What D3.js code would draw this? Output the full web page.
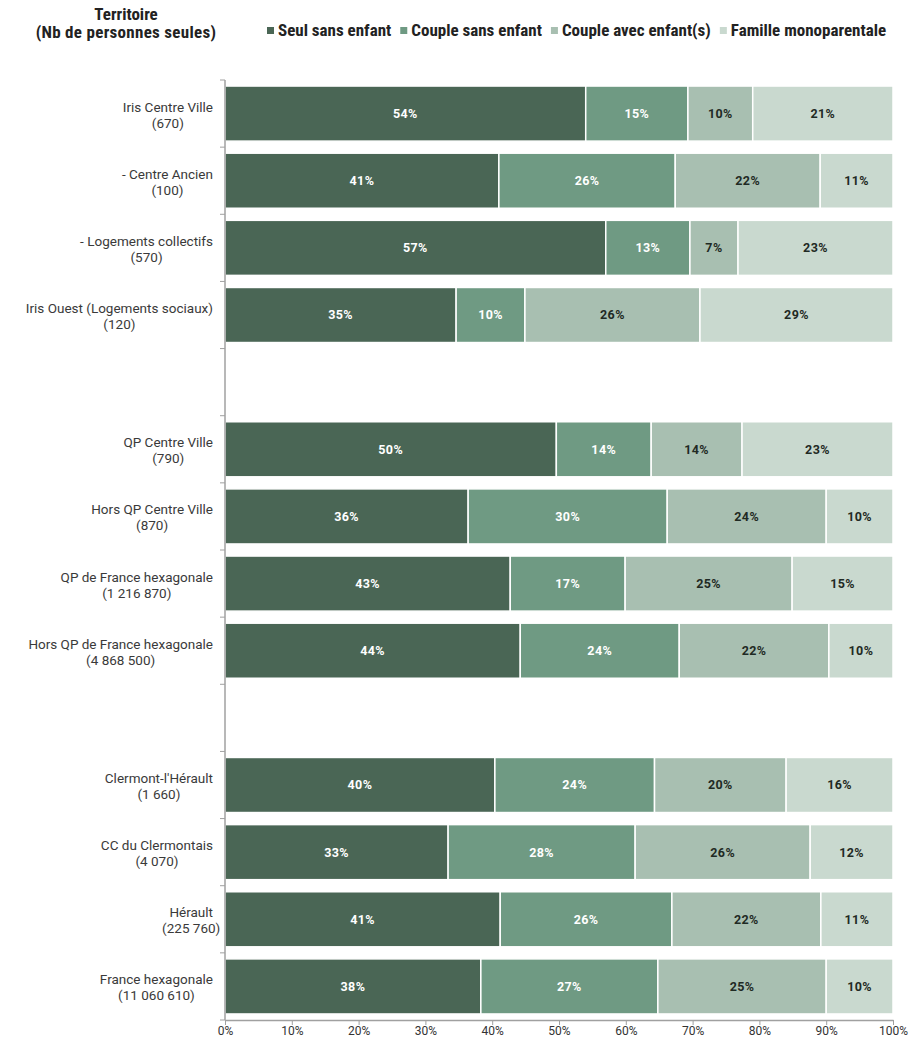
<!DOCTYPE html>
<html>
<head>
<meta charset="utf-8">
<script src="https://cdn.jsdelivr.net/npm/d3@7"></script>
<style>
  body { margin: 0; background: #fff; }
  text { font-family: Roboto, sans-serif; }
  .cond { font-family: "Roboto Condensed", "Liberation Sans Narrow", Roboto, sans-serif; }
</style>
</head>
<body>
<div id="chart"></div>
<script>
// Categories (blank strings = gaps between groups)
const territories = [
    "Iris Centre Ville|(670)",
    "- Centre Ancien|(100)",
    "- Logements collectifs|(570)",
    "Iris Ouest (Logements sociaux)|(120)",
    "",
    "QP Centre Ville|(790)",
    "Hors QP Centre Ville|(870)",
    "QP de France hexagonale|(1 216 870)",
    "Hors QP de France hexagonale|(4 868 500)",
    " ",
    "Clermont-l'Hérault|(1 660)",
    "CC du Clermontais|(4 070)",
    "Hérault|(225 760)",
    "France hexagonale|(11 060 610)"
];

const seriesNames = ["Seul sans enfant", "Couple sans enfant", "Couple avec enfant(s)", "Famille monoparentale"];

// Series values (% of single persons), null for gaps
const seulSansEnfant     = [54.0, 41.0, 57.0, 34.6, null, 49.6, 36.4, 42.7, 44.2, null, 40.4, 33.4, 41.2, 38.3];
const coupleSansEnfant   = [15.3, 26.4, 12.6, 10.3, null, 14.2, 29.8, 17.2, 23.8, null, 23.9, 28.0, 25.7, 26.5];
const coupleAvecEnfant   = [ 9.7, 21.7,  7.2, 26.2, null, 13.6, 23.8, 25.0, 22.4, null, 19.7, 26.2, 22.3, 25.2];
const familleMono        = [21.0, 10.9, 23.2, 28.9, null, 22.6, 10.0, 15.1,  9.6, null, 16.0, 12.4, 10.8, 10.0];

const xTicks = [0, 10, 20, 30, 40, 50, 60, 70, 80, 90, 100];

const colors = ["#4a6655", "#6f9a83", "#a8bfb1", "#c9d9cf"];
const labelColors = ["#ffffff", "#ffffff", "#1f2a24", "#1f2a24"];

const width = 909;
const height = 1037;
const margin = { top: 80, right: 16, bottom: 17, left: 225 };

const svg = d3.select("#chart").append("svg")
    .attr("width", width)
    .attr("height", height);

// Build table for the stack
const table = territories.map((t, i) => ({
    key: t,
    "Seul sans enfant": seulSansEnfant[i],
    "Couple sans enfant": coupleSansEnfant[i],
    "Couple avec enfant(s)": coupleAvecEnfant[i],
    "Famille monoparentale": familleMono[i]
}));

const stack = d3.stack().keys(seriesNames)
    .value((d, k) => d[k] == null ? 0 : d[k]);
const stacked = stack(table);

const x = d3.scaleLinear()
    .domain([0, 100])
    .range([margin.left, width - margin.right]);

const y = d3.scaleBand()
    .domain(territories)
    .range([margin.top, height - margin.bottom])
    .paddingInner(0.18)
    .paddingOuter(0.09);

// Bars
const layers = svg.append("g").selectAll("g")
    .data(stacked)
    .enter().append("g")
    .attr("fill", (d, i) => colors[i]);

layers.selectAll("rect")
    .data(d => d.filter(s => s.data[d.key] != null))
    .enter().append("rect")
    .attr("x", d => x(d[0]))
    .attr("y", d => y(d.data.key))
    .attr("width", d => x(d[1]) - x(d[0]))
    .attr("height", y.bandwidth())
    .attr("stroke", "#fff")
    .attr("stroke-width", 1.5);

// Value labels
stacked.forEach((layer, li) => {
    svg.append("g").selectAll("text")
        .data(layer.filter(s => s.data[layer.key] != null))
        .enter().append("text")
        .attr("x", d => (x(d[0]) + x(d[1])) / 2)
        .attr("y", d => y(d.data.key) + y.bandwidth() / 2)
        .attr("dy", "0.35em")
        .attr("text-anchor", "middle")
        .attr("font-size", 12.5)
        .attr("font-weight", "bold")
        .attr("letter-spacing", 0.4)
        .attr("fill", labelColors[li])
        .text(d => Math.round(d.data[layer.key]) + "%");
});

// Y axis line + ticks at band boundaries
const yAxis = svg.append("g");
yAxis.append("line")
    .attr("x1", margin.left).attr("x2", margin.left)
    .attr("y1", margin.top).attr("y2", height - margin.bottom)
    .attr("stroke", "#a0a0a0").attr("stroke-width", 1.5);

const step = y.step();
const boundaries = d3.range(territories.length + 1).map(i => margin.top + i * step);
yAxis.selectAll(".tick")
    .data(boundaries)
    .enter().append("line")
    .attr("x1", margin.left - 5).attr("x2", margin.left)
    .attr("y1", d => d).attr("y2", d => d)
    .attr("stroke", "#a0a0a0").attr("stroke-width", 1);

// Y labels (two lines)
const yLabels = svg.append("g").selectAll("text")
    .data(territories.filter(t => t.trim() !== ""))
    .enter().append("text")
    .attr("font-size", 13.5)
    .attr("fill", "#3a3a3a");

yLabels.each(function(t) {
    const parts = t.split("|");
    const cy = y(t) + y.bandwidth() / 2;
    const el = d3.select(this);
    el.append("tspan")
        .attr("x", 213).attr("y", cy - 2)
        .attr("text-anchor", "end")
        .text(parts[0]);
    el.append("tspan")
        .attr("y", cy + 14)
        .text(parts[1]);
});
// center second line under the first
yLabels.each(function() {
    const spans = d3.select(this).selectAll("tspan").nodes();
    const w = spans[0].getComputedTextLength();
    d3.select(spans[1]).attr("x", 213 - w / 2).attr("text-anchor", "middle");
});

// X axis
const xAxis = d3.axisBottom(x)
    .tickValues(xTicks)
    .tickFormat(d => d + "%")
    .tickSize(5)
    .tickSizeOuter(0);

const gx = svg.append("g")
    .attr("transform", "translate(0," + (height - margin.bottom) + ")")
    .call(xAxis);
gx.select(".domain").attr("stroke", "#a0a0a0").attr("stroke-width", 1.5);
gx.selectAll(".tick line").attr("stroke", "#a0a0a0");
gx.selectAll(".tick text")
    .attr("y", 6)
    .attr("font-size", 12)
    .attr("font-family", null)
    .attr("fill", "#333");

// Title top-left
svg.append("text")
    .attr("class", "cond")
    .attr("x", 126).attr("y", 20)
    .attr("text-anchor", "middle")
    .attr("font-size", 17)
    .attr("font-weight", "bold")
    .attr("fill", "#222")
    .text("Territoire");
svg.append("text")
    .attr("class", "cond")
    .attr("x", 126).attr("y", 38)
    .attr("text-anchor", "middle")
    .attr("font-size", 17)
    .attr("font-weight", "bold")
    .attr("letter-spacing", 0.3)
    .attr("fill", "#222")
    .text("(Nb de personnes seules)");

// Legend
const legend = svg.append("g").attr("transform", "translate(267,36)");
let lx = 0;
seriesNames.forEach((name, i) => {
    const g = legend.append("g").attr("transform", "translate(" + lx + ",0)");
    g.append("rect")
        .attr("x", 0).attr("y", -9)
        .attr("width", 7).attr("height", 7)
        .attr("fill", colors[i]);
    const t = g.append("text")
        .attr("class", "cond")
        .attr("x", 11).attr("y", 0)
        .attr("font-size", 17)
        .attr("font-weight", "bold")
        .attr("fill", "#222")
        .text(name);
    lx += 11 + t.node().getComputedTextLength() + 9;
});
</script>
</body>
</html>
